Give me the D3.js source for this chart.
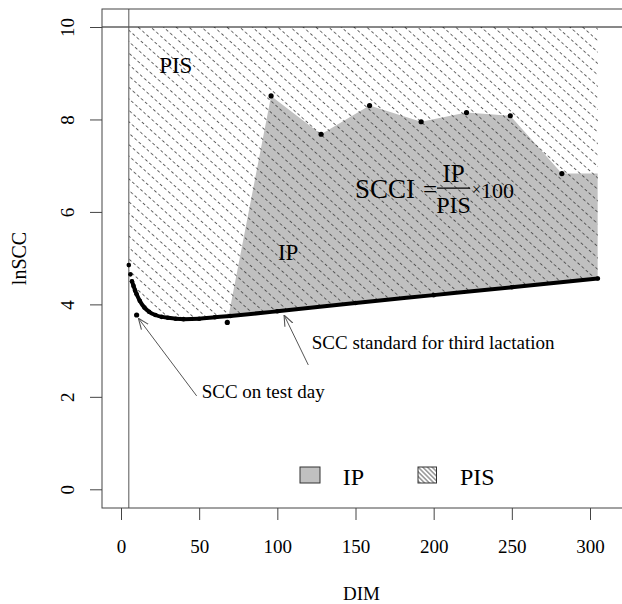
<!DOCTYPE html>
<html>
<head>
<meta charset="utf-8">
<script src="https://cdn.jsdelivr.net/npm/d3@7"></script>
<style>
  body { margin: 0; background: #fff; }
  svg text { font-family: "Liberation Serif", "Times New Roman", serif; fill: #000; }
</style>
</head>
<body>
<svg id="chart" width="622" height="604"></svg>
<script>
// standard SCC curve for third lactation
const stdDim = [5, 6, 7, 8, 9, 10, 12, 15, 18, 22, 26, 30, 35, 40, 50, 60, 70, 100, 150, 200, 250, 305];
const stdSCC = [4.85, 4.65, 4.50, 4.40, 4.30, 4.22, 4.08, 3.93, 3.84, 3.77, 3.73, 3.71, 3.69, 3.68, 3.69, 3.72, 3.75, 3.85, 4.03, 4.20, 4.37, 4.56];

// test day records
const testDim = [10, 68, 96, 128, 159, 192, 221, 249, 282];
const testSCC = [3.77, 3.61, 8.51, 7.68, 8.30, 7.95, 8.15, 8.08, 6.83];

const xTicks = [0, 50, 100, 150, 200, 250, 300];
const yTicks = [0, 2, 4, 6, 8, 10];
const topLine = 10;   // abline(h = 10)
const startDim = 5;   // abline(v = 5)

const svg = d3.select("#chart");

// plot region (right side of the box runs off the page)
const box = { left: 102, top: 9, right: 640, bottom: 508 };

const x = d3.scaleLinear().domain([0, 300]).range([121, 590]);
const y = d3.scaleLinear().domain([0, 10]).range([489.3, 27]);

const std = stdDim.map((d, i) => ({ dim: d, scc: stdSCC[i] }));
const test = testDim.map((d, i) => ({ dim: d, scc: testSCC[i] }));
// IP top edge is held flat after the last test day up to the end of the curve
const ipTop = test.concat([{ dim: stdDim[stdDim.length - 1], scc: testSCC[testSCC.length - 1] }]);

const defs = svg.append("defs");

// hatching "\\\\" used for PIS
function hatch(id, along, gap, angle, width, dash, color) {
  const p = defs.append("pattern")
    .attr("id", id)
    .attr("patternUnits", "userSpaceOnUse")
    .attr("width", along).attr("height", gap)
    .attr("patternTransform", `rotate(${angle})`);
  p.append("line")
    .attr("x1", 0).attr("y1", gap / 2)
    .attr("x2", along).attr("y2", gap / 2)
    .attr("stroke", color)
    .attr("stroke-width", width)
    .attr("stroke-dasharray", dash);
}
hatch("hatch", 11, 8.5, 42, 0.8, "3,2.5", "#3a3a3a");
hatch("hatchSmall", 4, 3.3, 45, 0.8, null, "#222");

// everything above the standard curve
defs.append("clipPath").attr("id", "aboveStd")
  .append("path")
  .attr("d", d3.area()
    .x(d => x(d.dim))
    .y0(y(topLine))
    .y1(d => y(d.scc))
    .curve(d3.curveMonotoneX)(std));

defs.append("marker")
  .attr("id", "arrow")
  .attr("viewBox", "0 0 10 10")
  .attr("refX", 10).attr("refY", 5)
  .attr("markerWidth", 11).attr("markerHeight", 11)
  .attr("markerUnits", "userSpaceOnUse")
  .attr("orient", "auto")
  .append("path")
  .attr("d", "M0,1 L10,5 L0,9")
  .attr("fill", "none")
  .attr("stroke", "#555")
  .attr("stroke-width", 1);

// IP: grey area between test day line and standard curve
svg.append("path")
  .attr("clip-path", "url(#aboveStd)")
  .attr("d", d3.area()
    .x(d => x(d.dim))
    .y0(y(0))
    .y1(d => y(d.scc))(ipTop))
  .attr("fill", "#c0c0c0");

// PIS: hatched area between standard curve and 10
svg.append("path")
  .attr("d", d3.area()
    .x(d => x(d.dim))
    .y0(y(topLine))
    .y1(d => y(d.scc))
    .curve(d3.curveMonotoneX)(std))
  .attr("fill", "url(#hatch)");

// reference lines
svg.append("line")
  .attr("x1", box.left).attr("x2", box.right)
  .attr("y1", y(topLine)).attr("y2", y(topLine))
  .attr("stroke", "#111").attr("stroke-width", 1);
svg.append("line")
  .attr("x1", x(startDim)).attr("x2", x(startDim))
  .attr("y1", box.top).attr("y2", box.bottom)
  .attr("stroke", "#555").attr("stroke-width", 1);

// standard curve
svg.append("path")
  .attr("d", d3.line()
    .x(d => x(d.dim))
    .y(d => y(d.scc))
    .curve(d3.curveMonotoneX)(std.filter(d => d.dim >= 7)))
  .attr("fill", "none")
  .attr("stroke", "#000")
  .attr("stroke-width", 4)
  .attr("stroke-linecap", "round");

svg.append("g").selectAll("circle")
  .data(std)
  .join("circle")
  .attr("cx", d => x(d.dim))
  .attr("cy", d => y(d.scc))
  .attr("r", 2.3)
  .attr("fill", "#000");

// test day points
svg.append("g").selectAll("circle")
  .data(test)
  .join("circle")
  .attr("cx", d => x(d.dim))
  .attr("cy", d => y(d.scc))
  .attr("r", 2.6)
  .attr("fill", "#000");

// box
svg.append("rect")
  .attr("x", box.left).attr("y", box.top)
  .attr("width", box.right - box.left)
  .attr("height", box.bottom - box.top)
  .attr("fill", "none")
  .attr("stroke", "#444")
  .attr("stroke-width", 1);

// x axis
const xAxis = svg.append("g")
  .attr("transform", `translate(0,${box.bottom})`)
  .call(d3.axisBottom(x).tickValues(xTicks).tickSize(12).tickPadding(20).tickSizeOuter(0));
xAxis.select(".domain").remove();
xAxis.selectAll(".tick line").attr("stroke", "#444");
xAxis.selectAll(".tick text")
  .attr("font-family", "Liberation Serif")
  .attr("font-size", 19)
  .attr("fill", "#000");

// y axis
const yAxis = svg.append("g")
  .attr("transform", `translate(${box.left},0)`)
  .call(d3.axisLeft(y).tickValues(yTicks).tickSize(12).tickSizeOuter(0));
yAxis.select(".domain").remove();
yAxis.selectAll(".tick line").attr("stroke", "#444");
yAxis.selectAll(".tick text")
  .attr("font-family", "Liberation Serif")
  .attr("font-size", 19)
  .attr("fill", "#000")
  .attr("x", null).attr("dy", null)
  .attr("text-anchor", "middle")
  .attr("transform", "translate(-28,0) rotate(-90)");

// axis titles
svg.append("text")
  .attr("x", 361.5).attr("y", 600)
  .attr("text-anchor", "middle")
  .attr("font-size", 19)
  .text("DIM");
svg.append("text")
  .attr("transform", `translate(25.5,${(box.top + box.bottom) / 2}) rotate(-90)`)
  .attr("text-anchor", "middle")
  .attr("font-size", 20)
  .text("lnSCC");

// labels inside the plot
svg.append("text").attr("x", x(24.4)).attr("y", y(9.0))
  .attr("font-size", 23).text("PIS");
svg.append("text").attr("x", x(100.4)).attr("y", y(4.96))
  .attr("font-size", 23).text("IP");

// SCCI = IP / PIS x 100
const f = svg.append("g").attr("transform", `translate(${x(149.7)},${y(6.30)})`);
f.append("text").attr("x", 0).attr("y", 0).attr("font-size", 27).text("SCCI");
f.append("text").attr("x", 68).attr("y", 0).attr("font-size", 25).text("=");
f.append("line").attr("x1", 82).attr("x2", 115).attr("y1", -10).attr("y2", -10)
  .attr("stroke", "#000").attr("stroke-width", 1.2);
f.append("text").attr("x", 98.5).attr("y", -16).attr("text-anchor", "middle")
  .attr("font-size", 25).text("IP");
f.append("text").attr("x", 98.5).attr("y", 15).attr("text-anchor", "middle")
  .attr("font-size", 24).text("PIS");
f.append("text").attr("x", 117).attr("y", -3).attr("font-size", 16).text("×");
f.append("text").attr("x", 126).attr("y", 0).attr("font-size", 22).text("100");

// annotations
function note(from, to, label, at) {
  svg.append("line")
    .attr("x1", x(from[0])).attr("y1", y(from[1]))
    .attr("x2", x(to[0])).attr("y2", y(to[1]))
    .attr("stroke", "#555").attr("stroke-width", 1)
    .attr("marker-end", "url(#arrow)");
  svg.append("text")
    .attr("x", x(at[0])).attr("y", y(at[1]))
    .attr("dy", "0.33em")
    .attr("font-size", 19)
    .text(label);
}
note([48.4, 2.02], [11.1, 3.70], "SCC on test day", [51.6, 2.11]);
note([119.8, 2.69], [104.3, 3.77], "SCC standard for third lactation", [122, 3.16]);

// legend
const lg = svg.append("g");
lg.append("rect").attr("x", 300).attr("y", 467).attr("width", 20).attr("height", 16)
  .attr("fill", "#c0c0c0").attr("stroke", "#333").attr("stroke-width", 1);
lg.append("text").attr("x", 342.7).attr("y", 485).attr("font-size", 24).text("IP");
lg.append("rect").attr("x", 418).attr("y", 467).attr("width", 18.5).attr("height", 16)
  .attr("fill", "url(#hatchSmall)").attr("stroke", "#333").attr("stroke-width", 1);
lg.append("text").attr("x", 460).attr("y", 485).attr("font-size", 24).text("PIS");
</script>
</body>
</html>
